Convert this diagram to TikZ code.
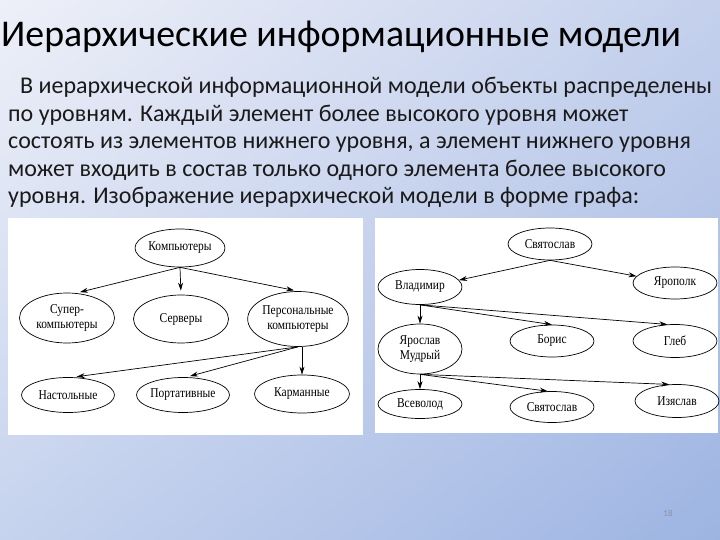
\documentclass[tikz,border=0pt]{standalone}
\usepackage{fontspec}
\setmainfont{Carlito}
\newfontfamily\grfont[FakeStretch=0.85]{Liberation Serif}
\usetikzlibrary{arrows.meta,positioning,shapes.geometric,shadings}
\definecolor{bgTL}{HTML}{EEF0F8}
\definecolor{bgTR}{HTML}{C4D0EC}
\definecolor{bgBL}{HTML}{C6D3EE}
\definecolor{bgBR}{HTML}{9DB4E2}
\definecolor{bodytext}{HTML}{1A1A1A}
\definecolor{pagenum}{HTML}{8A8FA8}

\begin{document}
\begin{tikzpicture}[x=1pt, y=-1pt,
  vertex/.style={draw, ellipse, inner sep=0pt, line width=0.7pt, align=center,
    font=\grfont\fontsize{13.5}{14.5}\selectfont, minimum width=84pt, minimum height=32pt},
  link/.style={-{Stealth[length=8pt,width=5pt]}, line width=0.7pt},
  gap/.style={shorten >=4pt}]
  \useasboundingbox (0,0) rectangle (720,540);
  \shade[upper left=bgTL, upper right=bgTR, lower left=bgBL, lower right=bgBR]
    (0,0) rectangle (720,540);

  \node[anchor=base west, inner sep=0pt, font=\fontsize{37.8}{44}\selectfont] (title) at (1,47)
    {Иерархические информационные модели};
  \node[anchor=north west, inner sep=0pt, align=left, text=bodytext,
    font=\fontsize{24}{27.5}\selectfont] (body) at (8,77) {%
    \hspace*{12pt}В иерархической информационной модели объекты распределены\\
    по уровням. Каждый элемент более высокого уровня может\\
    состоять из элементов нижнего уровня, а элемент нижнего уровня\\
    может входить в состав только одного элемента более высокого\\
    уровня. Изображение иерархической модели в форме графа:};

  \fill[white] (8,218) rectangle (363,435);
  \fill[white] (375,218) rectangle (718,433);

  % computers
  \node[vertex, minimum width=90pt, minimum height=38pt] (komp) at (180,248) {Компьютеры};
  \node[vertex, minimum width=95pt, minimum height=50pt] (super) at (67,318) {Супер-\\компьютеры};
  \node[vertex, minimum width=95pt, minimum height=48pt] (serv) at (181,319) {Серверы};
  \node[vertex, minimum width=100pt, minimum height=55pt] (pers) at (298,319) {Персональные\\компьютеры};
  \node[vertex, minimum width=93pt, minimum height=35pt] (nast) at (68,395) {Настольные};
  \node[vertex, minimum width=93pt, minimum height=35pt] (port) at (183,395) {Портативные};
  \node[vertex, minimum width=95pt, minimum height=38pt] (karm) at (302,394) {Карманные};

  \draw[link, gap] (komp.south) -- (super.70);
  \draw[link, gap] (komp.south) -- (serv.north);
  \draw[link, gap] (komp.south) -- (pers.north);
  \draw[link, gap] (pers.south) -- (nast.75);
  \draw[link, gap] (pers.south) -- (port.80);
  \draw[link] (pers.south -| karm.north) -- (karm.north);

  % family tree
  \node[vertex, minimum height=32pt] (svt) at (550,244) {Святослав};
  \node[vertex, minimum height=35pt] (vlad) at (420,287) {Владимир};
  \node[vertex, minimum height=32pt] (jarop) at (675,283) {Ярополк};
  \node[vertex, minimum height=50pt] (jaros) at (420,349) {Ярослав\\Мудрый};
  \node[vertex, minimum height=32pt] (bor) at (552,341) {Борис};
  \node[vertex, minimum height=33pt] (gleb) at (675,341) {Глеб};
  \node[vertex, minimum height=29pt] (vsev) at (420,404) {Всеволод};
  \node[vertex, minimum height=31pt] (svt2) at (552,407) {Святослав};
  \node[vertex, minimum height=33pt] (izya) at (677,401) {Изяслав};

  \draw[link] (svt.south) -- (vlad.10);
  \draw[link] (svt.south) -- (jarop.170);
  \draw[link] (vlad.south) -- (jaros.north);
  \draw[link] (vlad.south) -- (bor.north);
  \draw[link] (vlad.south) -- (gleb.115);
  \draw[link] (jaros.south) -- (vsev.north);
  \draw[link] (jaros.south) -- (svt2.105);
  \draw[link] (jaros.south) -- (izya.115);

  \node[font=\fontsize{9}{10}\selectfont, text=pagenum] (page) at (668,513) {18};
\end{tikzpicture}
\end{document}
